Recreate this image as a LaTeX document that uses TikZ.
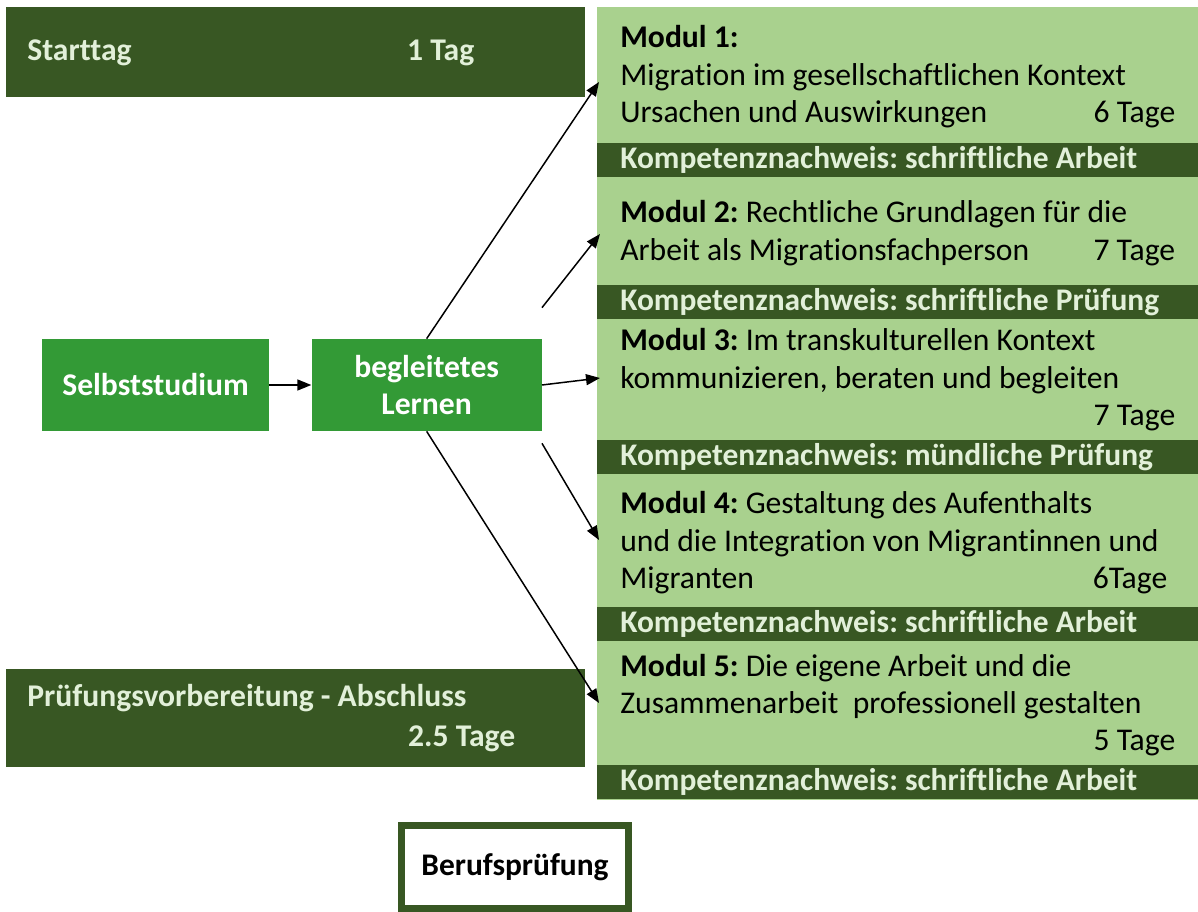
\documentclass[tikz,border=0pt]{standalone}
\usepackage{fontspec}
\setmainfont{Carlito}[Ligatures=NoCommon]
\usepackage{tikz}
\usetikzlibrary{arrows.meta}
\usetikzlibrary{positioning}
\definecolor{darkgreen}{HTML}{385723}
\definecolor{lightgreen}{HTML}{A9D18E}
\definecolor{midgreen}{HTML}{339A36}
\definecolor{palegreen}{HTML}{E2F0D9}
\tikzstyle{pointer} = [line width=0.85pt,-{Triangle[length=0.28cm,width=0.22cm]}]
\tikzstyle{every node} = [execute at begin node={\frenchspacing\spaceskip=0pt\xspaceskip=0pt}]
\newcommand{\daysline}[2]{\hbox to \linewidth{#1\hfill #2}}

\begin{document}
\begin{tikzpicture}[x=0.02cm,y=-0.02cm,
    dark box/.style={fill=darkgreen,text=palegreen,anchor=north west,inner xsep=0.42cm,
      font=\fontsize{18}{22.7}\selectfont\bfseries,text width=10.74cm,align=left},
    step node/.style={fill=midgreen,text=white,minimum width=4.6cm,minimum height=1.84cm,
      font=\fontsize{18}{21.5}\selectfont\bfseries,align=center},
    module text/.style={anchor=base west,inner sep=0pt,text width=11.1cm,align=left,
      font=\fontsize{18}{21.3}\selectfont},
    proof bar/.style={fill=darkgreen,text=palegreen,anchor=west,inner xsep=0.46cm,inner ysep=0pt,
      minimum height=0.68cm,text width=11.1cm,align=left,font=\fontsize{17.9}{19}\selectfont\bfseries}]

  \useasboundingbox (0,0) rectangle (1198,912);

  \node[dark box,minimum height=1.8cm] (start) at (6,7)
    {\hbox to 8.94cm{Starttag\hfill 1 Tag}};
  \node[dark box,minimum height=1.96cm] (exam) at (6,669)
    {Prüfungsvorbereitung - Abschluss\\\hbox to 9.76cm{\hfill 2.5 Tage}};

  \node[fill=lightgreen,anchor=north west,inner sep=0pt,minimum width=12.02cm,minimum height=15.86cm] (panel) at (597,7) {};

  \foreach \y/\t [count=\i] in {160/schriftliche Arbeit,302/schriftliche Prüfung,457/mündliche Prüfung,624/schriftliche Arbeit,782/schriftliche Arbeit}
    \node[proof bar] (K\i) at (597,\y) {Kompetenznachweis: \t};

  \node[module text] (M1) at (620,48)
    {\textbf{Modul 1:}\\Migration im gesellschaftlichen Kontext\\\daysline{Ursachen und Auswirkungen}{6 Tage}};
  \node[module text] (M2) at (620,223)
    {\textbf{Modul 2:} Rechtliche Grundlagen für die\\\daysline{Arbeit als Migrationsfachperson}{7 Tage}};
  \node[module text] (M3) at (620,351)
    {\textbf{Modul 3:} Im transkulturellen Kontext\\kommunizieren, beraten und begleiten\\\daysline{}{7 Tage}};
  \node[module text] (M4) at (620,514)
    {\textbf{Modul 4:} Gestaltung des Aufenthalts\\und die Integration von Migrantinnen und\\\daysline{Migranten}{6Tage\hspace{0.16cm}}};
  \node[module text] (M5) at (620,676)
    {\textbf{Modul 5:} Die eigene Arbeit und die\\Zusammenarbeit\ \ professionell gestalten\\\daysline{}{5 Tage}};

  \node[step node,minimum width=4.54cm] (self) at (155.5,385) {Selbststudium};
  \node[step node,right=0.84cm of self] (lern) {begleitetes\\Lernen};

  \node[draw=darkgreen,line width=0.14cm,minimum width=4.56cm,minimum height=1.66cm,
    font=\fontsize{17.9}{19}\selectfont\bfseries] (beruf) at (515,867) {Berufsprüfung};

  \coordinate (S1) at (lern.north);
  \coordinate (S2) at ([yshift=0.62cm]lern.north east);
  \coordinate (S3) at (lern.east);
  \coordinate (S4) at ([yshift=-0.24cm]lern.south east);
  \coordinate (S5) at (lern.south);
  \coordinate (T1) at (599,82);
  \coordinate (T2) at (600,234);
  \coordinate (T3) at (600,378);
  \coordinate (T4) at (599,540);
  \coordinate (T5) at (599,703);

  \draw[pointer] (self) -- (lern);
  \foreach \i in {1,...,5}{\draw[pointer] (S\i) -- (T\i);}
\end{tikzpicture}
\end{document}
